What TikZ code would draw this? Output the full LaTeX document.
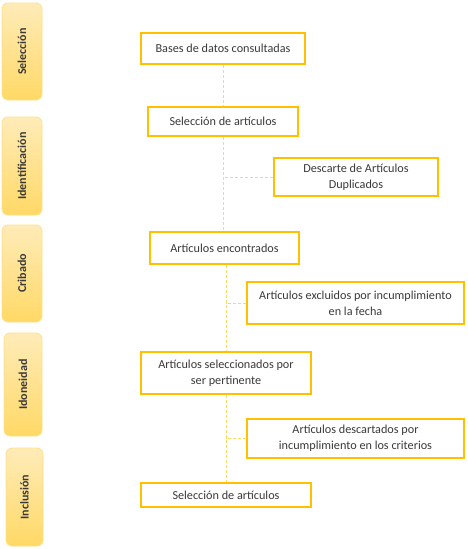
\documentclass[tikz,border=0pt]{standalone}
\usepackage{fontspec}
\setmainfont{Carlito}
\definecolor{oro}{HTML}{FFC000}
\definecolor{oroclaro}{HTML}{FFD966}
\definecolor{faseclaro}{HTML}{FFEBB8}
\definecolor{gris}{HTML}{3A3A3A}
\tikzset{
  caja/.style={draw=oro, line width=1.3pt, fill=white, align=center, text=gris,
    font=\fontsize{12.2}{16}\selectfont, inner sep=1pt},
  fase/.style={rotate=90, rounded corners=6pt, draw=oroclaro!80, line width=0.8pt,
    top color=faseclaro, bottom color=oroclaro, text=gris,
    font=\fontsize{12}{14}\selectfont\bfseries, inner sep=1pt},
  guia/.style={draw=oroclaro, line width=0.8pt, dash pattern=on 3pt off 2pt}
}
\begin{document}
\begin{tikzpicture}[x=1pt,y=-1pt]
\useasboundingbox (0,0) rectangle (468,549);
% fases
\node[fase, minimum width=97pt, minimum height=40pt] (f1) at (22,51.5) {Selección};
\node[fase, minimum width=98pt, minimum height=40pt] (f2) at (22,166) {Identificación};
\node[fase, minimum width=97pt, minimum height=40pt] (f3) at (22,273.5) {Cribado};
\node[fase, minimum width=103pt, minimum height=38pt] (f4) at (23,384.5) {Idoneidad};
\node[fase, minimum width=98pt, minimum height=37pt] (f5) at (24.5,497) {Inclusión};
% cajas
\node[caja, minimum width=164pt, minimum height=31pt] (bases) at (223,48.5) {Bases de datos consultadas};
\node[caja, minimum width=150pt, minimum height=29pt] (sel) at (223,121.5) {Selección de artículos};
\node[caja, minimum width=164pt, minimum height=38pt] (dup) at (356,177) {Descarte de Artículos\\Duplicados};
\node[caja, minimum width=149pt, minimum height=32pt] (enc) at (224.5,248) {Artículos encontrados};
\node[caja, minimum width=217pt, minimum height=42pt] (fecha) at (355.5,303) {Artículos excluidos por incumplimiento\\en la fecha};
\node[caja, minimum width=170pt, minimum height=42pt] (pert) at (226,373) {Artículos seleccionados por\\ser pertinente};
\node[caja, minimum width=217pt, minimum height=39pt] (crit) at (355.5,438.5) {Artículos descartados por\\incumplimiento en los criterios};
\node[caja, minimum width=170pt, minimum height=24pt] (final) at (226,495) {Selección de artículos};
% guias
\draw[guia] (bases) -- (sel);
\draw[guia] (sel) -- (sel |- enc.north);
\draw[guia] (dup.west) -- (dup.west -| sel);
\draw[guia] (enc.south -| pert) -- (pert);
\draw[guia] (fecha.west) -- (fecha.west -| pert);
\draw[guia] (pert) -- (final);
\draw[guia] (crit.west) -- (crit.west -| pert);
\end{tikzpicture}
\end{document}
